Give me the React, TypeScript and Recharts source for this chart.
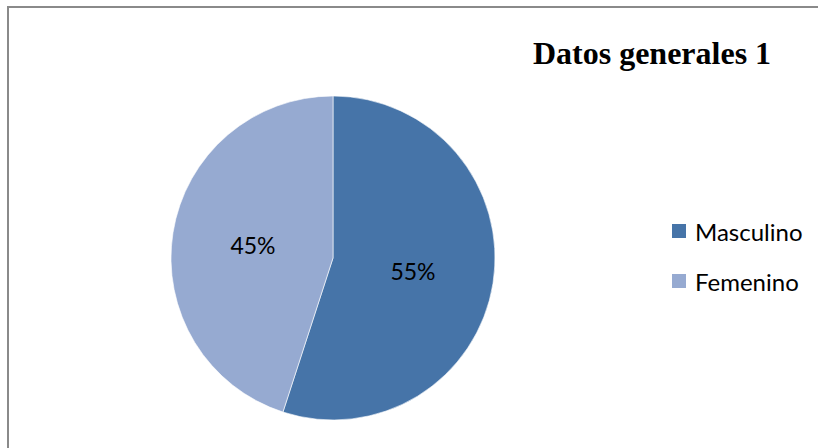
import React from 'react';
import { PieChart, Pie, Cell, Legend } from 'recharts';

const categories = ['Masculino', 'Femenino'];
const values = [55, 45];
const colors = ['#4674A8', '#96AAD1'];
const title = 'Datos generales 1';

const data = categories.map((name, i) => ({ name, value: values[i] }));

const RAD = Math.PI / 180;
const FONT = 'Lato, "Open Sans", sans-serif';

const renderLabel = (props: any) => {
  const { cx, cy, midAngle, outerRadius, percent } = props;
  const r = outerRadius * 0.5;
  const x = cx + r * Math.cos(-midAngle * RAD);
  const y = cy + r * Math.sin(-midAngle * RAD);
  return (
    <text x={x} y={y} textAnchor="middle" dominantBaseline="central" fill="#000" fontSize={23} fontFamily={FONT}>
      {`${Math.round(percent * 100)}%`}
    </text>
  );
};

const renderLegend = () => (
  <div style={{ fontFamily: FONT, fontSize: 24, color: '#000' }}>
    {data.map((d, i) => (
      <div key={d.name} style={{ display: 'flex', alignItems: 'center', height: 50 }}>
        <span style={{ width: 14, height: 14, background: colors[i], display: 'inline-block', marginRight: 9 }} />
        <span>{d.name}</span>
      </div>
    ))}
  </div>
);

export default function App() {
  return (
    <div style={{ position: 'absolute', left: 0, top: 0, width: 818, height: 448, background: '#fff', overflow: 'hidden' }}>
      <PieChart width={818} height={448} margin={{ top: 0, right: 0, bottom: 0, left: 0 }}>
        <Pie
          data={data}
          dataKey="value"
          nameKey="name"
          cx={333}
          cy={258}
          outerRadius={162}
          startAngle={90}
          endAngle={-270}
          stroke="#ffffff"
          strokeWidth={0.6}
          label={renderLabel}
          labelLine={false}
          isAnimationActive={false}
        >
          {data.map((d, i) => (
            <Cell key={d.name} fill={colors[i]} />
          ))}
        </Pie>
        <Legend
          content={renderLegend}
          wrapperStyle={{ position: 'absolute', left: 672, top: 206, width: 146 }}
        />
      </PieChart>
      <svg width={818} height={448} style={{ position: 'absolute', left: 0, top: 0, pointerEvents: 'none' }}>
        <line x1={7} y1={7} x2={818} y2={7} stroke="#8a8a8a" strokeWidth={2} />
        <line x1={8} y1={6} x2={8} y2={448} stroke="#8a8a8a" strokeWidth={2} />
        <text x={652} y={64} textAnchor="middle" fontFamily='"Liberation Serif", "Times New Roman", serif' fontWeight="bold" fontSize={32} fill="#000">
          {title}
        </text>
      </svg>
    </div>
  );
}
